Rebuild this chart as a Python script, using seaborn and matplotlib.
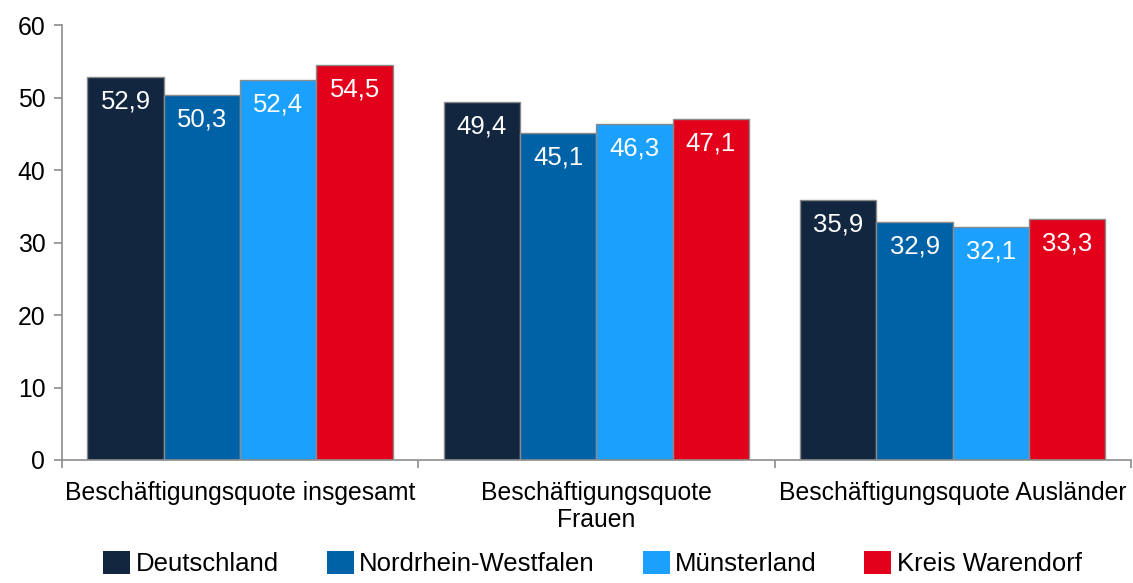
import matplotlib
matplotlib.use("Agg")
import matplotlib.pyplot as plt
import seaborn as sns
import pandas as pd
from matplotlib.patches import Patch

categories = ["Beschäftigungsquote insgesamt", "Beschäftigungsquote\nFrauen", "Beschäftigungsquote Ausländer"]
regions = ["Deutschland", "Nordrhein-Westfalen", "Münsterland", "Kreis Warendorf"]
deutschland = [52.9, 49.4, 35.9]
nrw = [50.3, 45.1, 32.9]
muensterland = [52.4, 46.3, 32.1]
warendorf = [54.5, 47.1, 33.3]
colors = ["#12263f", "#0062a6", "#1ba1fd", "#e3001b"]
yticks = [0, 10, 20, 30, 40, 50, 60]

rows = []
for reg, vals in zip(regions, [deutschland, nrw, muensterland, warendorf]):
    for cat, v in zip(categories, vals):
        rows.append({"Kategorie": cat, "Region": reg, "Wert": v})
df = pd.DataFrame(rows)

sns.set_style("white")
plt.rcParams["font.family"] = ["Liberation Sans", "DejaVu Sans"]
plt.rcParams["text.color"] = "black"
plt.rcParams["xtick.color"] = "black"
plt.rcParams["ytick.color"] = "black"

fig = plt.figure(figsize=(11.33, 5.83), dpi=100)
ax = fig.add_axes([0.0547, 0.211, 0.9435, 0.746])

sns.barplot(data=df, x="Kategorie", y="Wert", hue="Region", order=categories,
            hue_order=regions, palette=colors, width=0.857, ax=ax,
            edgecolor="#8a8a8a", linewidth=1, legend=False, errorbar=None,
            saturation=1)

for cont in ax.containers:
    labels = [f"{v:.1f}".replace(".", ",") for v in cont.datavalues]
    anns = ax.bar_label(cont, labels=labels, padding=-9, color="white", fontsize=18.5)
    for a in anns:
        a.set_va("top")

ax.set_ylim(0, 60)
ax.set_yticks(yticks)
ax.set_xlim(-0.5, 2.5)
ax.set_xlabel("")
ax.set_ylabel("")
for s in ["top", "right"]:
    ax.spines[s].set_visible(False)
for s in ["left", "bottom"]:
    ax.spines[s].set_color("#8c8c8c")
    ax.spines[s].set_linewidth(1.2)
ax.tick_params(axis="y", which="major", length=6, width=1.2, color="#8c8c8c",
               labelcolor="black", labelsize=17.8, pad=6, direction="out", left=True)
ax.tick_params(axis="x", which="major", length=0, labelsize=17.8, labelcolor="black", pad=15)
ax.set_xticks([-0.5, 0.5, 1.5, 2.5], minor=True)
ax.tick_params(axis="x", which="minor", length=6, width=1.2, color="#8c8c8c",
               direction="out", bottom=True)
for lbl in ax.get_xticklabels():
    lbl.set_linespacing(1.15)

handles = [Patch(facecolor=c, edgecolor="none", label=r) for c, r in zip(colors, regions)]
fig.legend(handles=handles, loc="lower center", bbox_to_anchor=(0.523, -0.028), ncol=4,
           frameon=False, fontsize=18.5, handlelength=1.05, handleheight=1.05,
           handletextpad=0.2, columnspacing=1.87)

fig.savefig("out.png", dpi=100)
